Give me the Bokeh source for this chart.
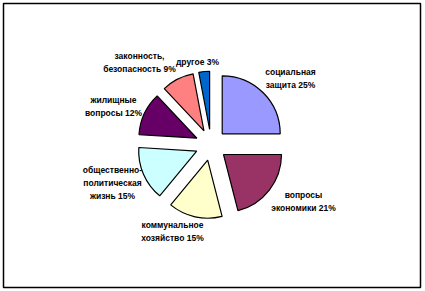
import math
from bokeh.plotting import figure
from bokeh.models import Range1d, ColumnDataSource
from bokeh.core.properties import value
from bokeh.embed import file_html
from bokeh.resources import INLINE

# ---- data ----
categories = ["социальная\nзащита", "вопросы\nэкономики", "коммунальное\nхозяйство",
              "общественно-\nполитическая\nжизнь", "жилищные\nвопросы",
              "законность,\nбезопасность", "другое"]
shares = [25, 21, 15, 15, 12, 9, 3]
colors = ["#9999FF", "#993366", "#FFFFCC", "#CCFFFF", "#660066", "#FF8080", "#0066CC"]

# ---- layout / style ----
W, H = 425, 291
ML, MR, MT, MB = 3, 5, 3, 4
FW, FH = W - ML - MR, H - MT - MB
cx_s, cy_s = 210.6, 144.4          # pie centre, screen pixels
R = 58.0                            # radius
EXPLODE = 15.7
# label centres (screen px)
label_pos = [(290, 78), (303, 201), (172, 231), (112, 182), (113, 106), (139, 62), (197, 61)]

def sx(x):
    return x - ML

def sy(y):
    return (H - MB) - y

total = float(sum(shares))
starts, ends, xs, ys = [], [], [], []
cum = 0.0
for v in shares:
    t1 = cum / total * 2 * math.pi
    cum += v
    t2 = cum / total * 2 * math.pi
    tm = (t1 + t2) / 2
    starts.append(math.pi / 2 - t2)
    ends.append(math.pi / 2 - t1)
    xs.append(sx(cx_s) + EXPLODE * math.sin(tm))
    ys.append(sy(cy_s) + EXPLODE * math.cos(tm))

src = ColumnDataSource(dict(x=xs, y=ys, start=starts, end=ends, color=colors))

p = figure(width=W, height=H, output_backend="svg", toolbar_location=None,
           x_range=Range1d(0, FW), y_range=Range1d(0, FH),
           min_border_left=ML, min_border_right=MR, min_border_top=MT, min_border_bottom=MB)
p.axis.visible = False
p.grid.visible = False
p.outline_line_color = "#000000"
p.outline_line_width = 1.5
p.background_fill_color = "white"
p.border_fill_color = "white"

p.wedge(x="x", y="y", radius=R, start_angle="start", end_angle="end",
        fill_color="color", line_color="#000000", line_width=1.2, source=src)

labels = [f"{c} {s}%" for c, s in zip(categories, shares)]
lsrc = ColumnDataSource(dict(x=[sx(a) for a, b in label_pos], y=[sy(b) for a, b in label_pos], t=labels))
p.text(x="x", y="y", text="t", source=lsrc, text_align="center", text_baseline="middle",
       text_font=value("Liberation Sans"), text_font_size="8.5px", text_font_style="bold",
       text_color="#000000", text_line_height=1.3)

open("out.html", "w").write(file_html(p, INLINE))
